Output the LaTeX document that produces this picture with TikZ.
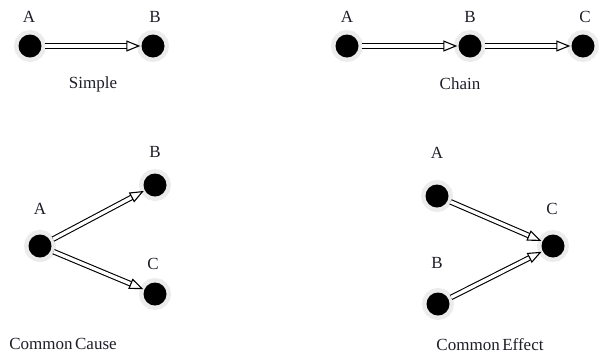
\documentclass[tikz,border=0pt]{standalone}
\usepackage{fontspec}
\setmainfont[WordSpace=0.6]{Liberation Serif}
\usetikzlibrary{arrows.meta}

\definecolor{bncolor0000}{RGB}{236,236,236}
\definecolor{bncolor0001}{RGB}{30,30,40}

\begin{document}
\begin{tikzpicture}[yscale=-1
,bnode/.style={circle,fill=black,inner sep=0pt,minimum size=23pt,preaction={draw=bncolor0000,line width=9pt}}
,bname/.style={color=bncolor0001,font=\fontsize{17}{19}\selectfont}
,btitle/.style={color=bncolor0001,font=\fontsize{17}{19}\selectfont}
,barrow/.style={draw=black,double=white,double distance=3.4pt,line width=1.1pt,shorten <=3pt,shorten >=1pt,-{Triangle[open,length=14pt,width=11pt]}}
]
\useasboundingbox (0pt,0pt) rectangle (600pt,360pt);
% simple
\node (sa) at (30pt,46pt)[bnode]{};
\node (sb) at (153pt,46pt)[bnode]{};
\node (sal) at (29pt,17pt)[bname]{A};
\node (sbl) at (155pt,17pt)[bname]{B};
\draw[barrow] (sa) -- (sb);
\node (st) at (93pt,84pt)[btitle]{Simple};
% chain
\node (ca) at (347pt,46pt)[bnode]{};
\node (cb) at (470pt,46pt)[bnode]{};
\node (cc) at (583pt,46pt)[bnode]{};
\node (cal) at (347pt,17pt)[bname]{A};
\node (cbl) at (470pt,17pt)[bname]{B};
\node (ccl) at (585pt,17pt)[bname]{C};
\draw[barrow] (ca) -- (cb);
\draw[barrow] (cb) -- (cc);
\node (ct) at (460pt,84pt)[btitle]{Chain};
% common cause
\node (ka) at (40pt,246pt)[bnode]{};
\node (kb) at (155pt,185pt)[bnode]{};
\node (kc) at (155pt,294pt)[bnode]{};
\node (kal) at (40pt,209pt)[bname]{A};
\node (kbl) at (155pt,152pt)[bname]{B};
\node (kcl) at (153pt,264pt)[bname]{C};
\draw[barrow] (ka) -- (kb);
\draw[barrow] (ka) -- (kc);
\node (kt) at (63pt,344pt)[btitle]{Common Cause};
% common effect
\node (ea) at (437pt,196pt)[bnode]{};
\node (eb) at (438pt,304pt)[bnode]{};
\node (ec) at (553pt,246pt)[bnode]{};
\node (eal) at (437pt,153pt)[bname]{A};
\node (ebl) at (437pt,263pt)[bname]{B};
\node (ecl) at (552pt,209pt)[bname]{C};
\draw[barrow] (ea) -- (ec);
\draw[barrow] (eb) -- (ec);
\node (et) at (490pt,345pt)[btitle]{Common Effect};
\end{tikzpicture}
\end{document}
